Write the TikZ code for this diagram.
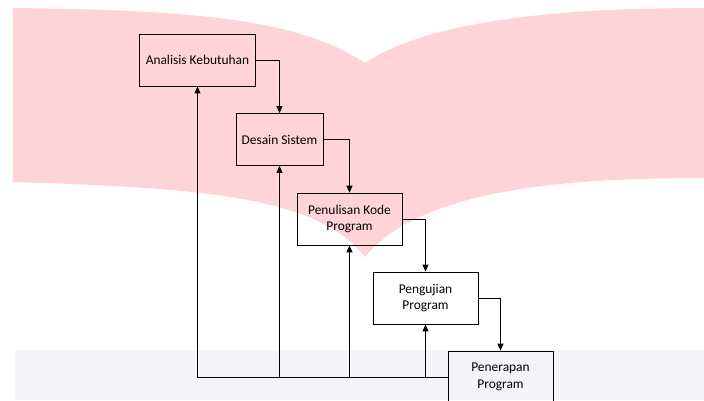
\documentclass[tikz,border=0pt]{standalone}
\usepackage{fontspec}
\setmainfont{Carlito}
\usetikzlibrary{arrows.meta}
\definecolor{wmpink}{HTML}{FFD4D7}
\definecolor{wmgray}{HTML}{F4F4F8}

\begin{document}
\begin{tikzpicture}[x=1pt,y=-1pt,
    stage/.style={draw,line width=0.8pt,minimum height=52pt,align=center,inner sep=2pt,
      font=\fontsize{13.4}{16.6}\selectfont},
    flow/.style={-{Triangle[length=7pt,width=6pt]},line width=1pt}]
   \useasboundingbox (0,0) rectangle (704,400);
   \fill[white] (0,0) rectangle (704,400);
   % watermark
   \fill[wmpink] (13,8) .. controls (200,10) and (300,20) .. (365,63)
      .. controls (430,20) and (560,8) .. (704,8) -- (704,178)
      .. controls (560,178) and (420,190) .. (365,257)
      .. controls (320,200) and (220,188) .. (13,182) -- cycle;
   \fill[wmgray] (15,350) rectangle (704,400);
   \node[stage,minimum width=116pt] (ana) at (197.5,60) {Analisis Kebutuhan};
   \node[stage,minimum width=87pt] (des) at (279.5,139.5) {Desain Sistem};
   \node[stage,minimum width=105pt] (kode) at (349.5,219) {Penulisan Kode\\Program};
   \node[stage,minimum width=105pt] (uji) at (425.5,298) {Pengujian\\Program};
   \node[stage,minimum width=105pt] (terap) at (500.5,377) {Penerapan\\Program};
   \draw[flow] (ana.east) -| (des.north);
   \draw[flow] (des.east) -| (kode.north);
   \draw[flow] (kode.east) -| (uji.north);
   \draw[flow] (uji.east) -| (terap.north);
   % feedback
   \draw[flow] (terap.west) -| (ana.south);
   \draw[flow] (des.south |- terap.west) -- (des.south);
   \draw[flow] (kode.south |- terap.west) -- (kode.south);
   \draw[flow] (uji.south |- terap.west) -- (uji.south);
\end{tikzpicture}
\end{document}
